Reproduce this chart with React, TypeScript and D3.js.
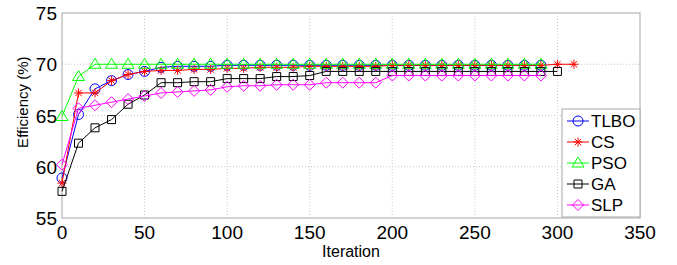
import React, { useEffect, useRef } from "react";
import * as d3 from "d3";

// iterations for each run (TLBO / PSO / SLP stop at 290, GA at 300, CS at 310)
const iterShort = [0, 10, 20, 30, 40, 50, 60, 70, 80, 90, 100, 110, 120, 130, 140, 150, 160, 170, 180, 190, 200, 210, 220, 230, 240, 250, 260, 270, 280, 290];
const iterGA = [...iterShort, 300];
const iterCS = [...iterShort, 300, 310];

const tlbo = [58.9, 65.1, 67.6, 68.4, 69.0, 69.3, 69.7, 69.8, 69.8, 69.8, 69.9, 69.9, 69.9, 69.9, 69.9, 69.9, 69.9, 69.9, 69.9, 69.9, 69.9, 69.9, 69.9, 69.9, 69.9, 69.9, 69.9, 69.9, 69.9, 69.9];
const cs = [58.4, 67.2, 67.2, 68.4, 69.0, 69.3, 69.4, 69.4, 69.5, 69.5, 69.6, 69.6, 69.7, 69.7, 69.7, 69.8, 69.8, 69.8, 69.8, 69.8, 69.9, 69.9, 69.9, 69.9, 69.9, 69.9, 69.9, 69.9, 69.9, 69.9, 70.0, 70.0];
const pso = [64.9, 68.8, 70.0, 70.0, 70.0, 70.0, 70.0, 70.0, 70.0, 70.0, 70.0, 70.0, 70.0, 70.0, 70.0, 70.0, 70.0, 70.0, 70.0, 70.0, 70.0, 70.0, 70.0, 70.0, 70.0, 70.0, 70.0, 70.0, 70.0, 70.0];
const ga = [57.6, 62.3, 63.8, 64.6, 66.1, 67.0, 68.2, 68.2, 68.3, 68.3, 68.6, 68.6, 68.6, 68.8, 68.8, 68.9, 69.3, 69.3, 69.3, 69.3, 69.3, 69.3, 69.3, 69.3, 69.3, 69.3, 69.3, 69.3, 69.3, 69.3, 69.3];
const slp = [60.2, 65.7, 66.0, 66.3, 66.6, 66.9, 67.2, 67.3, 67.4, 67.5, 67.8, 67.9, 67.9, 68.0, 68.0, 68.0, 68.2, 68.2, 68.2, 68.2, 68.9, 68.9, 68.9, 68.9, 68.9, 68.9, 68.9, 68.9, 68.9, 68.9];

const xTicks = [0, 50, 100, 150, 200, 250, 300, 350];
const yTicks = [55, 60, 65, 70, 75];

const series = [
    { name: "TLBO", color: "#0000ff", marker: "circle", x: iterShort, y: tlbo },
    { name: "CS", color: "#ff0000", marker: "star", x: iterCS, y: cs },
    { name: "PSO", color: "#00ff00", marker: "triangle", x: iterShort, y: pso },
    { name: "GA", color: "#000000", marker: "square", x: iterGA, y: ga },
    { name: "SLP", color: "#ff00ff", marker: "diamond", x: iterShort, y: slp },
];

const W = 677, H = 265;
const font = "'Liberation Sans', Arial, Helvetica, sans-serif";

// matlab-ish marker outlines
const markerType = (kind: string) => ({
    draw(p: any) {
        if (kind === "circle") {
            p.moveTo(5, 0);
            p.arc(0, 0, 5, 0, Math.PI * 2);
        } else if (kind === "triangle") {
            p.moveTo(0, -6);
            p.lineTo(6, 4);
            p.lineTo(-6, 4);
            p.closePath();
        } else if (kind === "square") {
            p.rect(-4, -4, 8, 8);
        } else if (kind === "diamond") {
            p.moveTo(0, -5.5);
            p.lineTo(5.5, 0);
            p.lineTo(0, 5.5);
            p.lineTo(-5.5, 0);
            p.closePath();
        } else {
            const r = 4.5, d = 3.2;
            p.moveTo(-r, 0); p.lineTo(r, 0);
            p.moveTo(0, -r); p.lineTo(0, r);
            p.moveTo(-d, -d); p.lineTo(d, d);
            p.moveTo(-d, d); p.lineTo(d, -d);
        }
    },
});

export default function App() {
    const ref = useRef<SVGSVGElement>(null);

    useEffect(() => {
        const svg = d3.select(ref.current);
        svg.selectAll("*").remove();

        const x = d3.scaleLinear().domain([0, 350]).range([62, 640]);
        const y = d3.scaleLinear().domain([55, 75]).range([218, 13]);

        svg.append("rect").attr("width", W).attr("height", H).attr("fill", "#fff");

        // grid
        const grid = svg.append("g").attr("stroke", "#c8c8c8").attr("stroke-dasharray", "1,2").attr("stroke-width", 1);
        xTicks.slice(1, -1).forEach((t) => {
            grid.append("line").attr("x1", x(t)).attr("x2", x(t)).attr("y1", y(55)).attr("y2", y(75));
        });
        yTicks.slice(1, -1).forEach((t) => {
            grid.append("line").attr("x1", x(0)).attr("x2", x(350)).attr("y1", y(t)).attr("y2", y(t));
        });

        // box
        svg.append("rect")
            .attr("x", x(0)).attr("y", y(75))
            .attr("width", x(350) - x(0)).attr("height", y(55) - y(75))
            .attr("fill", "none").attr("stroke", "#a8a8a8").attr("stroke-width", 1);

        // tick labels
        svg.append("g").selectAll("text").data(xTicks).enter().append("text")
            .attr("x", (d) => x(d)).attr("y", 239)
            .attr("text-anchor", "middle")
            .attr("font-family", font).attr("font-size", 19)
            .text((d) => d);
        svg.append("g").selectAll("text").data(yTicks).enter().append("text")
            .attr("x", 57).attr("y", (d) => y(d) + 7)
            .attr("text-anchor", "end")
            .attr("font-family", font).attr("font-size", 19)
            .text((d) => d);

        svg.append("text")
            .attr("x", x(175)).attr("y", 257)
            .attr("text-anchor", "middle")
            .attr("font-family", font).attr("font-size", 16)
            .text("Iteration");
        svg.append("text")
            .attr("transform", `translate(28 ${y(66.3)}) rotate(-90)`)
            .attr("text-anchor", "middle")
            .attr("font-family", font).attr("font-size", 15)
            .text("Efficiency (%)");

        const line = d3.line<[number, number]>().x((d) => x(d[0])).y((d) => y(d[1]));

        series.forEach((s) => {
            const pts: [number, number][] = s.x.map((v, i) => [v, s.y[i]]);
            const g = svg.append("g");
            g.append("path")
                .attr("d", line(pts))
                .attr("fill", "none")
                .attr("stroke", s.color)
                .attr("stroke-width", 1);
            const sym = d3.symbol().type(markerType(s.marker) as any);
            g.selectAll("path.m").data(pts).enter().append("path")
                .attr("class", "m")
                .attr("transform", (d) => `translate(${x(d[0])} ${y(d[1])})`)
                .attr("d", sym as any)
                .attr("fill", "none")
                .attr("stroke", s.color)
                .attr("stroke-width", 1);
        });

        // legend
        const lg = svg.append("g").attr("transform", "translate(562 109)");
        lg.append("rect").attr("width", 78).attr("height", 108)
            .attr("fill", "#fff").attr("stroke", "#a8a8a8").attr("stroke-width", 1);
        series.forEach((s, i) => {
            const ly = 12 + i * 21;
            const row = lg.append("g").attr("transform", `translate(0 ${ly})`);
            row.append("line").attr("x1", 5).attr("x2", 27).attr("y1", 0).attr("y2", 0)
                .attr("stroke", s.color).attr("stroke-width", 1);
            row.append("path")
                .attr("transform", "translate(16 0)")
                .attr("d", d3.symbol().type(markerType(s.marker) as any)() as string)
                .attr("fill", "none").attr("stroke", s.color).attr("stroke-width", 1);
            row.append("text")
                .attr("x", 29).attr("y", 6)
                .attr("font-family", font).attr("font-size", 17)
                .text(s.name);
        });
    }, []);

    return <svg ref={ref} width={W} height={H} style={{ position: "absolute", left: 0, top: 0 }} />;
}
